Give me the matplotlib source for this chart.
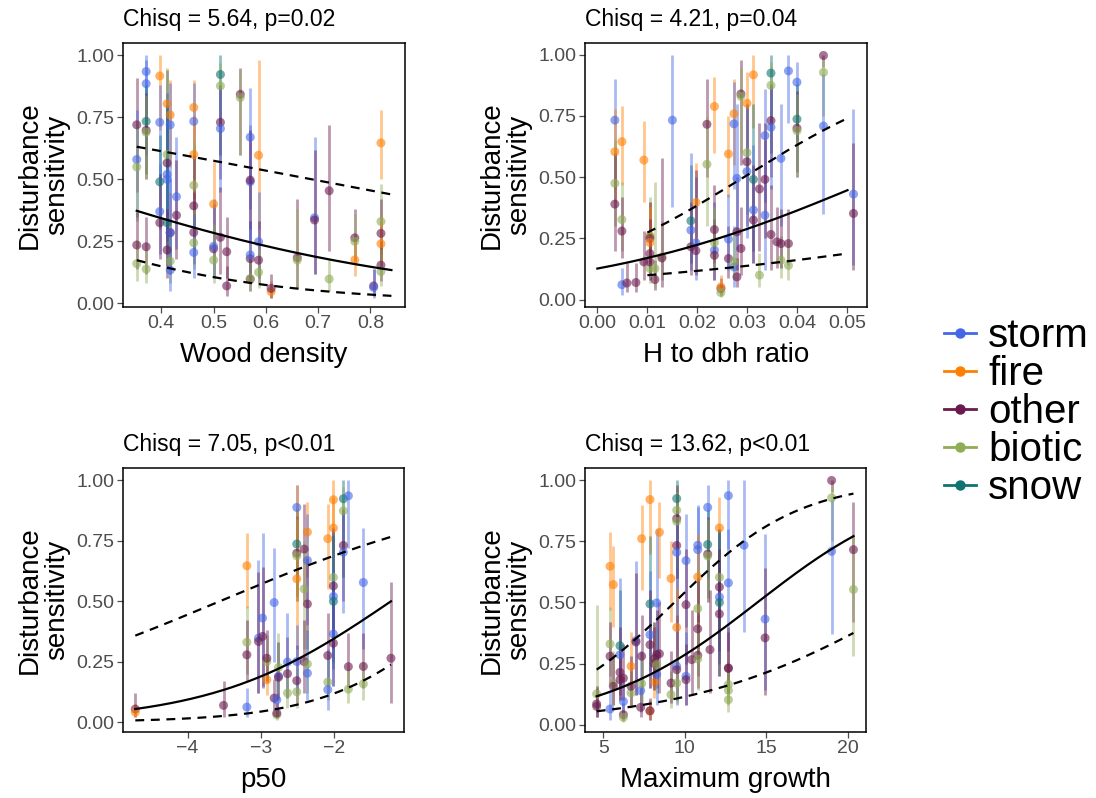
import numpy as np
import matplotlib
matplotlib.use("Agg")
import matplotlib.pyplot as plt
from matplotlib.lines import Line2D

plt.rcParams['font.family'] = ['Liberation Sans', 'DejaVu Sans']

categories = ["storm", "fire", "other", "biotic", "snow"]
code = {"s": "storm", "f": "fire", "o": "other", "b": "biotic", "n": "snow"}
colors = {"storm": "#4467E8", "fire": "#FF8000", "other": "#6B1A4E",
          "biotic": "#8FAD55", "snow": "#0E7373"}

titles = ["Chisq = 5.64, p=0.02", "Chisq = 4.21, p=0.04",
          "Chisq = 7.05, p<0.01", "Chisq = 13.62, p<0.01"]
xlabels = ["Wood density", "H to dbh ratio", "p50", "Maximum growth"]

# (x, y, lo, hi, group)
wood = [
    (0.353, 0.72, 0.45, 0.91, "o"), (0.353, 0.58, 0.35, 0.78, "s"), (0.353, 0.55, 0.33, 0.74, "b"),
    (0.353, 0.235, 0.14, 0.37, "o"), (0.353, 0.16, 0.09, 0.26, "b"),
    (0.371, 0.935, 0.70, 1.0, "s"), (0.371, 0.886, 0.60, 0.98, "s"), (0.371, 0.734, 0.52, 0.88, "n"),
    (0.371, 0.698, 0.50, 0.85, "o"), (0.371, 0.69, 0.50, 0.84, "b"), (0.371, 0.228, 0.12, 0.35, "o"),
    (0.371, 0.138, 0.08, 0.22, "b"),
    (0.397, 0.917, 0.70, 1.0, "f"), (0.397, 0.73, 0.50, 0.88, "s"), (0.397, 0.49, 0.30, 0.68, "n"),
    (0.397, 0.37, 0.20, 0.56, "s"), (0.397, 0.325, 0.18, 0.52, "o"),
    (0.411, 0.805, 0.58, 0.95, "f"), (0.411, 0.60, 0.38, 0.80, "b"), (0.411, 0.566, 0.30, 0.80, "o"),
    (0.411, 0.52, 0.20, 0.85, "s"), (0.411, 0.50, 0.25, 0.75, "s"), (0.411, 0.325, 0.15, 0.94, "n"),
    (0.411, 0.215, 0.10, 0.38, "o"),
    (0.417, 0.76, 0.55, 0.90, "f"), (0.417, 0.72, 0.45, 0.89, "s"), (0.417, 0.285, 0.15, 0.45, "o"),
    (0.417, 0.285, 0.12, 0.50, "s"), (0.417, 0.17, 0.08, 0.32, "b"), (0.417, 0.134, 0.05, 0.30, "s"),
    (0.429, 0.43, 0.22, 0.67, "s"), (0.429, 0.355, 0.18, 0.58, "o"),
    (0.462, 0.79, 0.60, 0.90, "f"), (0.462, 0.734, 0.50, 0.89, "s"), (0.462, 0.60, 0.42, 0.76, "f"),
    (0.462, 0.476, 0.30, 0.65, "b"), (0.462, 0.393, 0.22, 0.60, "o"), (0.462, 0.286, 0.16, 0.45, "o"),
    (0.462, 0.244, 0.14, 0.38, "b"), (0.462, 0.205, 0.10, 0.36, "s"),
    (0.50, 0.40, 0.25, 0.57, "f"), (0.50, 0.22, 0.10, 0.40, "o"), (0.50, 0.23, 0.10, 0.42, "s"),
    (0.50, 0.174, 0.08, 0.32, "b"),
    (0.513, 0.923, 0.60, 1.0, "n"), (0.513, 0.877, 0.60, 0.97, "b"), (0.513, 0.73, 0.50, 0.88, "o"),
    (0.513, 0.705, 0.45, 0.87, "s"), (0.513, 0.266, 0.12, 0.47, "o"),
    (0.525, 0.07, 0.03, 0.15, "o"), (0.525, 0.208, 0.10, 0.35, "o"),
    (0.551, 0.843, 0.60, 0.95, "o"), (0.551, 0.83, 0.60, 0.94, "b"),
    (0.57, 0.67, 0.38, 0.87, "s"), (0.57, 0.49, 0.25, 0.72, "s"), (0.57, 0.497, 0.30, 0.70, "o"),
    (0.57, 0.18, 0.09, 0.33, "o"), (0.57, 0.195, 0.10, 0.33, "s"), (0.57, 0.097, 0.05, 0.18, "o"),
    (0.57, 0.10, 0.05, 0.19, "b"),
    (0.586, 0.597, 0.30, 0.98, "f"), (0.586, 0.248, 0.10, 0.45, "s"), (0.586, 0.174, 0.08, 0.33, "o"),
    (0.586, 0.125, 0.06, 0.22, "b"),
    (0.61, 0.047, 0.02, 0.09, "f"), (0.61, 0.06, 0.02, 0.12, "o"),
    (0.66, 0.184, 0.06, 0.42, "o"), (0.66, 0.174, 0.06, 0.38, "b"),
    (0.693, 0.345, 0.12, 0.67, "s"), (0.693, 0.336, 0.12, 0.62, "o"),
    (0.721, 0.454, 0.21, 0.72, "o"), (0.721, 0.098, 0.05, 0.18, "b"),
    (0.77, 0.264, 0.17, 0.38, "o"), (0.77, 0.25, 0.16, 0.36, "b"), (0.77, 0.175, 0.11, 0.26, "f"),
    (0.806, 0.07, 0.03, 0.14, "o"), (0.806, 0.064, 0.02, 0.14, "s"),
    (0.82, 0.647, 0.50, 0.78, "f"), (0.82, 0.33, 0.20, 0.48, "b"), (0.82, 0.282, 0.17, 0.42, "o"),
    (0.82, 0.24, 0.15, 0.35, "f"), (0.82, 0.154, 0.09, 0.25, "o"), (0.82, 0.128, 0.07, 0.22, "b"),
]

hdbh = [
    (0.0035, 0.733, 0.45, 0.90, "s"), (0.0035, 0.604, 0.40, 0.78, "f"), (0.0035, 0.475, 0.30, 0.65, "b"),
    (0.0035, 0.39, 0.20, 0.60, "o"),
    (0.0049, 0.645, 0.47, 0.79, "f"), (0.0049, 0.327, 0.20, 0.48, "b"), (0.0049, 0.28, 0.17, 0.42, "o"),
    (0.0049, 0.061, 0.02, 0.13, "s"),
    (0.0059, 0.068, 0.03, 0.15, "o"), (0.0077, 0.07, 0.03, 0.15, "o"),
    (0.0093, 0.57, 0.40, 0.73, "f"), (0.0093, 0.154, 0.08, 0.28, "o"),
    (0.0105, 0.26, 0.15, 0.40, "f"), (0.0105, 0.26, 0.14, 0.42, "b"), (0.0105, 0.25, 0.13, 0.40, "o"),
    (0.0105, 0.233, 0.13, 0.38, "f"), (0.0105, 0.188, 0.10, 0.33, "o"), (0.0105, 0.127, 0.07, 0.22, "b"),
    (0.0105, 0.154, 0.08, 0.28, "o"),
    (0.0115, 0.082, 0.04, 0.16, "o"), (0.0115, 0.127, 0.05, 0.48, "b"),
    (0.0129, 0.175, 0.08, 0.32, "b"), (0.0129, 0.17, 0.05, 0.58, "o"),
    (0.015, 0.733, 0.38, 1.0, "s"),
    (0.0187, 0.322, 0.15, 0.55, "n"), (0.0187, 0.284, 0.12, 0.60, "s"), (0.0187, 0.216, 0.10, 0.40, "o"),
    (0.0197, 0.397, 0.25, 0.56, "f"), (0.0197, 0.232, 0.08, 0.50, "s"), (0.0197, 0.20, 0.10, 0.53, "o"),
    (0.0219, 0.716, 0.50, 0.90, "o"), (0.0219, 0.553, 0.30, 0.75, "b"),
    (0.0234, 0.202, 0.08, 0.40, "s"), (0.0234, 0.286, 0.15, 0.47, "o"), (0.0234, 0.181, 0.08, 0.33, "o"),
    (0.0234, 0.233, 0.12, 0.38, "b"), (0.0234, 0.789, 0.60, 0.91, "f"),
    (0.0247, 0.045, 0.02, 0.09, "o"), (0.0247, 0.052, 0.02, 0.10, "f"), (0.0247, 0.029, 0.01, 0.06, "b"),
    (0.0262, 0.595, 0.42, 0.75, "f"), (0.0262, 0.168, 0.09, 0.30, "o"), (0.0262, 0.247, 0.12, 0.43, "s"),
    (0.0273, 0.759, 0.55, 0.90, "f"), (0.0273, 0.718, 0.45, 0.89, "s"), (0.0273, 0.134, 0.05, 0.30, "s"),
    (0.0273, 0.154, 0.08, 0.27, "b"),
    (0.0279, 0.093, 0.05, 0.17, "o"), (0.0279, 0.277, 0.12, 0.50, "o"), (0.0279, 0.495, 0.20, 0.80, "s"),
    (0.0287, 0.84, 0.55, 0.98, "o"), (0.0287, 0.83, 0.60, 0.95, "b"), (0.0287, 0.209, 0.10, 0.38, "o"),
    (0.0299, 0.802, 0.60, 0.93, "f"), (0.0299, 0.60, 0.35, 0.80, "b"), (0.0299, 0.563, 0.30, 0.80, "o"),
    (0.0299, 0.523, 0.25, 0.78, "s"),
    (0.0312, 0.918, 0.70, 1.0, "f"), (0.0312, 0.491, 0.20, 0.80, "n"), (0.0312, 0.366, 0.15, 0.63, "s"),
    (0.0312, 0.325, 0.15, 0.55, "o"),
    (0.0324, 0.452, 0.20, 0.72, "o"), (0.0324, 0.10, 0.05, 0.19, "b"),
    (0.0335, 0.345, 0.12, 0.65, "s"), (0.0335, 0.67, 0.40, 0.86, "s"), (0.0335, 0.491, 0.25, 0.72, "o"),
    (0.0347, 0.925, 0.60, 1.0, "n"), (0.0347, 0.875, 0.60, 0.97, "b"), (0.0347, 0.731, 0.50, 0.88, "o"),
    (0.0347, 0.704, 0.45, 0.87, "s"), (0.0347, 0.266, 0.12, 0.47, "o"),
    (0.0359, 0.236, 0.13, 0.38, "o"),
    (0.0367, 0.577, 0.30, 0.80, "s"), (0.0367, 0.161, 0.09, 0.26, "b"), (0.0367, 0.229, 0.13, 0.37, "o"),
    (0.0382, 0.934, 0.72, 1.0, "s"), (0.0382, 0.229, 0.14, 0.37, "o"), (0.0382, 0.14, 0.08, 0.24, "b"),
    (0.0399, 0.888, 0.65, 0.97, "s"), (0.0399, 0.737, 0.52, 0.88, "n"), (0.0399, 0.70, 0.50, 0.85, "o"),
    (0.0399, 0.69, 0.50, 0.84, "b"),
    (0.0452, 0.997, 0.95, 1.0, "o"), (0.0452, 0.928, 0.75, 0.99, "b"), (0.0452, 0.709, 0.35, 0.92, "s"),
    (0.0512, 0.431, 0.14, 0.78, "s"), (0.0512, 0.352, 0.12, 0.64, "o"),
]

p50 = [
    (-4.714, 0.054, 0.02, 0.12, "o"), (-4.714, 0.041, 0.02, 0.08, "f"),
    (-3.509, 0.069, 0.02, 0.17, "o"),
    (-3.191, 0.646, 0.47, 0.78, "f"), (-3.191, 0.33, 0.20, 0.48, "b"), (-3.191, 0.278, 0.17, 0.42, "o"),
    (-3.191, 0.062, 0.02, 0.14, "s"),
    (-3.032, 0.347, 0.12, 0.67, "s"), (-3.032, 0.333, 0.12, 0.62, "o"),
    (-2.977, 0.43, 0.15, 0.78, "s"), (-2.977, 0.354, 0.14, 0.64, "o"),
    (-2.918, 0.175, 0.11, 0.26, "f"), (-2.918, 0.25, 0.16, 0.36, "b"), (-2.918, 0.264, 0.17, 0.38, "o"),
    (-2.818, 0.494, 0.25, 0.72, "s"), (-2.818, 0.099, 0.05, 0.18, "o"),
    (-2.782, 0.092, 0.02, 0.22, "s"), (-2.782, 0.03, 0.01, 0.06, "b"), (-2.782, 0.037, 0.02, 0.08, "o"),
    (-2.759, 0.19, 0.10, 0.33, "s"), (-2.759, 0.185, 0.09, 0.33, "o"), (-2.759, 0.226, 0.12, 0.37, "b"),
    (-2.636, 0.20, 0.10, 0.35, "o"), (-2.636, 0.248, 0.10, 0.45, "s"), (-2.636, 0.12, 0.06, 0.22, "b"),
    (-2.509, 0.887, 0.60, 0.98, "s"), (-2.509, 0.736, 0.52, 0.88, "n"), (-2.509, 0.698, 0.50, 0.85, "o"),
    (-2.509, 0.687, 0.50, 0.84, "b"), (-2.509, 0.592, 0.30, 0.98, "f"), (-2.509, 0.171, 0.08, 0.32, "o"),
    (-2.509, 0.125, 0.06, 0.22, "b"), (-2.509, 0.25, 0.12, 0.40, "s"),
    (-2.409, 0.715, 0.50, 0.90, "o"), (-2.409, 0.55, 0.30, 0.75, "b"), (-2.409, 0.25, 0.12, 0.42, "o"),
    (-2.364, 0.785, 0.60, 0.91, "f"), (-2.364, 0.668, 0.40, 0.86, "s"), (-2.364, 0.488, 0.30, 0.68, "o"),
    (-2.364, 0.24, 0.12, 0.40, "b"), (-2.364, 0.202, 0.09, 0.38, "s"),
    (-2.086, 0.758, 0.55, 0.90, "f"), (-2.086, 0.275, 0.15, 0.45, "o"), (-2.086, 0.165, 0.09, 0.28, "b"),
    (-2.086, 0.134, 0.05, 0.30, "s"),
    (-2.009, 0.919, 0.70, 1.0, "f"), (-2.009, 0.802, 0.60, 0.93, "f"), (-2.009, 0.598, 0.35, 0.80, "b"),
    (-2.009, 0.563, 0.30, 0.80, "o"), (-2.009, 0.519, 0.25, 0.78, "s"), (-2.009, 0.499, 0.22, 0.77, "n"),
    (-2.009, 0.326, 0.15, 0.55, "o"), (-2.009, 0.364, 0.15, 0.63, "s"),
    (-1.873, 0.923, 0.60, 1.0, "n"), (-1.873, 0.873, 0.60, 0.97, "b"), (-1.873, 0.73, 0.50, 0.88, "o"),
    (-1.873, 0.702, 0.45, 0.87, "s"),
    (-1.805, 0.935, 0.72, 1.0, "s"), (-1.805, 0.229, 0.14, 0.37, "o"), (-1.805, 0.136, 0.08, 0.22, "b"),
    (-1.60, 0.577, 0.30, 0.80, "s"), (-1.60, 0.23, 0.14, 0.37, "o"), (-1.60, 0.158, 0.09, 0.25, "b"),
    (-1.223, 0.264, 0.08, 0.58, "o"),
]

growth = [
    (4.59, 0.075, 0.03, 0.15, "o"), (4.59, 0.126, 0.06, 0.49, "b"), (4.59, 0.085, 0.03, 0.16, "o"),
    (5.41, 0.648, 0.47, 0.79, "f"), (5.41, 0.33, 0.20, 0.48, "b"), (5.41, 0.28, 0.17, 0.42, "o"),
    (5.41, 0.064, 0.02, 0.14, "s"),
    (5.61, 0.573, 0.40, 0.73, "f"), (5.61, 0.168, 0.08, 0.30, "b"), (5.61, 0.157, 0.08, 0.28, "o"),
    (6.02, 0.323, 0.15, 0.55, "n"), (6.02, 0.286, 0.12, 0.60, "s"), (6.02, 0.214, 0.10, 0.40, "o"),
    (6.02, 0.184, 0.10, 0.32, "o"),
    (6.23, 0.041, 0.02, 0.09, "o"), (6.23, 0.03, 0.01, 0.06, "b"), (6.23, 0.095, 0.04, 0.20, "s"),
    (6.23, 0.19, 0.10, 0.33, "o"),
    (6.70, 0.239, 0.14, 0.38, "f"), (6.70, 0.13, 0.07, 0.22, "b"), (6.70, 0.157, 0.08, 0.28, "o"),
    (7.00, 0.344, 0.12, 0.67, "s"), (7.00, 0.338, 0.12, 0.62, "o"),
    (7.29, 0.139, 0.05, 0.30, "s"), (7.29, 0.071, 0.03, 0.15, "o"),
    (7.35, 0.761, 0.55, 0.90, "f"), (7.35, 0.28, 0.15, 0.45, "o"), (7.35, 0.168, 0.09, 0.28, "b"),
    (7.86, 0.921, 0.70, 1.0, "f"), (7.86, 0.494, 0.22, 0.77, "n"), (7.86, 0.368, 0.15, 0.63, "s"),
    (7.86, 0.327, 0.15, 0.55, "o"), (7.86, 0.055, 0.02, 0.10, "f"), (7.86, 0.057, 0.02, 0.11, "o"),
    (8.13, 0.259, 0.14, 0.42, "b"), (8.13, 0.175, 0.11, 0.26, "f"), (8.13, 0.269, 0.16, 0.42, "o"),
    (8.13, 0.25, 0.14, 0.40, "o"),
    (8.27, 0.498, 0.20, 0.80, "s"), (8.27, 0.286, 0.15, 0.47, "o"), (8.27, 0.246, 0.13, 0.40, "b"),
    (8.27, 0.205, 0.08, 0.40, "s"),
    (8.44, 0.787, 0.60, 0.91, "f"), (8.44, 0.29, 0.13, 0.50, "o"),
    (9.15, 0.598, 0.42, 0.75, "f"), (9.15, 0.123, 0.07, 0.22, "b"), (9.15, 0.17, 0.09, 0.30, "o"),
    (9.50, 0.925, 0.60, 1.0, "n"), (9.50, 0.877, 0.60, 0.97, "b"), (9.50, 0.843, 0.60, 0.98, "o"),
    (9.50, 0.832, 0.60, 0.95, "b"), (9.50, 0.733, 0.50, 0.88, "o"), (9.50, 0.705, 0.45, 0.87, "s"),
    (9.50, 0.398, 0.25, 0.56, "f"), (9.50, 0.239, 0.08, 0.50, "s"), (9.50, 0.225, 0.10, 0.45, "o"),
    (9.50, 0.17, 0.09, 0.28, "b"),
    (10.07, 0.671, 0.40, 0.86, "s"), (10.07, 0.491, 0.25, 0.72, "o"), (10.07, 0.198, 0.08, 0.38, "s"),
    (10.07, 0.184, 0.08, 0.33, "o"),
    (10.42, 0.266, 0.12, 0.47, "o"),
    (10.79, 0.734, 0.45, 0.90, "s"), (10.79, 0.716, 0.45, 0.89, "s"), (10.79, 0.604, 0.40, 0.78, "f"),
    (10.79, 0.475, 0.30, 0.65, "b"), (10.79, 0.392, 0.20, 0.60, "o"), (10.79, 0.284, 0.15, 0.45, "o"),
    (10.79, 0.269, 0.14, 0.42, "b"),
    (11.40, 0.889, 0.60, 0.98, "s"), (11.40, 0.737, 0.52, 0.88, "n"), (11.40, 0.698, 0.50, 0.85, "o"),
    (11.40, 0.69, 0.50, 0.84, "b"),
    (11.54, 0.307, 0.13, 0.55, "o"),
    (12.12, 0.805, 0.60, 0.93, "f"), (12.12, 0.603, 0.35, 0.80, "b"), (12.12, 0.563, 0.30, 0.80, "o"),
    (12.12, 0.522, 0.25, 0.78, "s"), (12.12, 0.50, 0.20, 0.80, "n"), (12.12, 0.453, 0.20, 0.72, "o"),
    (12.67, 0.937, 0.72, 1.0, "s"), (12.67, 0.58, 0.30, 0.80, "s"), (12.67, 0.232, 0.13, 0.38, "o"),
    (12.67, 0.164, 0.09, 0.26, "b"), (12.67, 0.102, 0.05, 0.19, "b"), (12.67, 0.23, 0.13, 0.40, "o"),
    (12.67, 0.14, 0.08, 0.24, "b"),
    (13.63, 0.734, 0.38, 1.0, "s"),
    (14.92, 0.432, 0.14, 0.78, "s"), (14.92, 0.355, 0.12, 0.64, "o"),
    (19.00, 0.999, 0.95, 1.0, "o"), (19.00, 0.928, 0.75, 0.99, "b"), (19.00, 0.709, 0.37, 0.92, "s"),
    (20.34, 0.716, 0.42, 0.91, "o"), (20.34, 0.553, 0.28, 0.78, "b"),
]

# logistic fit coefficients (intercept, slope) for fit / lower / upper, and x ranges
fits = [
    {"mid": (0.457, -2.766), "lo": (-0.167, -3.94), "hi": (1.106, -1.608),
     "xr": (0.353, 0.84), "xr_ci": (0.353, 0.84)},
    {"mid": (-1.928, 34.3), "lo": (-2.385, 18.5), "hi": (-1.48, 50.6),
     "xr": (0.0, 0.05), "xr_ci": (0.01, 0.05)},
    {"mid": (0.998, 0.819), "lo": (0.16, 1.085), "hi": (1.803, 0.507),
     "xr": (-4.714, -1.223), "xr_ci": (-4.714, -1.223)},
    {"mid": (-2.976, 0.206), "lo": (-3.533, 0.1486), "hi": (-2.427, 0.2594),
     "xr": (4.59, 20.34), "xr_ci": (4.59, 20.34)},
]

xlims = [(0.3267, 0.866), (-0.00247, 0.0539), (-4.882, -1.045), (3.875, 21.11)]
ylims = [(-0.015, 1.05), (-0.030, 1.048), (-0.041, 1.05), (-0.030, 1.050)]
xticks = [[0.4, 0.5, 0.6, 0.7, 0.8], [0.0, 0.01, 0.02, 0.03, 0.04, 0.05], [-4, -3, -2], [5, 10, 15, 20]]
xticklabels = [["0.4", "0.5", "0.6", "0.7", "0.8"],
               ["0.00", "0.01", "0.02", "0.03", "0.04", "0.05"],
               ["\u22124", "\u22123", "\u22122"], ["5", "10", "15", "20"]]
yticks = [0, 0.25, 0.5, 0.75, 1.0]
yticklabels = ["0.00", "0.25", "0.50", "0.75", "1.00"]

datasets = [wood, hdbh, p50, growth]

W, H = 1096, 798
fig = plt.figure(figsize=(W / 100, H / 100), dpi=100)
boxes = [(123, 43, 405, 307), (585, 43, 867, 307), (123, 468, 404, 732), (585, 468, 866, 732)]

def logistic(a, b, x):
    return 1.0 / (1.0 + np.exp(-(a + b * x)))

for i, (l, t, r, b) in enumerate(boxes):
    ax = fig.add_axes([l / W, 1 - b / H, (r - l) / W, (b - t) / H])
    data = datasets[i]
    for (x, y, lo, hi, g) in data:
        c = colors[code[g]]
        ax.plot([x, x], [lo, hi], color=c, alpha=0.45, lw=2.0, solid_capstyle='butt', zorder=2)
        ax.scatter([x], [y], s=42, color=c, alpha=0.6, edgecolors='none', zorder=3)
    f = fits[i]
    xs = np.linspace(f["xr"][0], f["xr"][1], 200)
    xc = np.linspace(f["xr_ci"][0], f["xr_ci"][1], 200)
    ax.plot(xs, logistic(*f["mid"], xs), color="black", lw=1.6, zorder=5)
    ax.plot(xc, logistic(*f["lo"], xc), color="black", lw=1.6, ls=(0, (4, 3)), zorder=5)
    ax.plot(xc, logistic(*f["hi"], xc), color="black", lw=1.6, ls=(0, (4, 3)), zorder=5)

    ax.set_xlim(*xlims[i])
    ax.set_ylim(*ylims[i])
    ax.set_xticks(xticks[i])
    ax.set_xticklabels(xticklabels[i])
    ax.set_yticks(yticks)
    ax.set_yticklabels(yticklabels)
    ax.tick_params(axis='both', labelsize=14, colors='#4D4D4D', length=4, width=0.9, pad=2)
    for sp in ax.spines.values():
        sp.set_linewidth(1.1)
        sp.set_color('black')
    ax.set_xlabel(xlabels[i], fontsize=20, labelpad=7)
    ax.set_ylabel("Disturbance\nsensitivity", fontsize=20, labelpad=5, linespacing=1.05)
    ax.set_title(titles[i], loc='left', fontsize=16.5, pad=12)

handles = [Line2D([0], [0], color=colors[c], lw=2, marker='o', markersize=6.5) for c in categories]
fig.legend(handles, categories, loc='center left', bbox_to_anchor=(944 / W, 1 - 412 / H),
           frameon=False, fontsize=29, handlelength=0.8, handletextpad=0.3,
           labelspacing=-0.005, borderpad=0, borderaxespad=0)

fig.savefig("out.png", dpi=100)
